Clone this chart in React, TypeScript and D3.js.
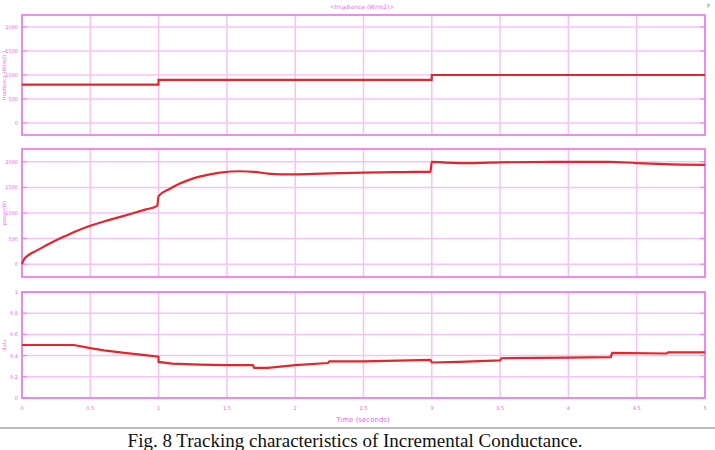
import React from "react";
import * as d3 from "d3";

// irradiance input (W/m2)
const irrTime = [0, 0.999, 1.0, 2.999, 3.0, 5];
const irrValue = [800, 800, 900, 900, 1000, 1000];

// PV power (W)
const powTime = [0, 0.01, 0.03, 0.06, 0.1, 0.2, 0.3, 0.4, 0.5, 0.6, 0.7, 0.8, 0.9, 0.99, 1.0, 1.08, 1.16, 1.3, 1.45, 1.6, 1.7, 1.8, 1.9, 2.0, 2.2, 2.5, 2.8, 2.99, 3.0, 3.1, 3.3, 3.5, 4.0, 4.3, 4.5, 4.7, 5];
const powValue = [0, 70, 140, 200, 255, 400, 530, 650, 750, 835, 910, 985, 1065, 1140, 1330, 1470, 1580, 1710, 1790, 1815, 1805, 1770, 1755, 1755, 1770, 1790, 1800, 1805, 2000, 1985, 1975, 1990, 2000, 2000, 1975, 1955, 1940];

// duty cycle
const dutyTime = [0, 0.38, 0.5, 0.6, 0.75, 0.9, 0.999, 1.0, 1.1, 1.3, 1.5, 1.69, 1.7, 1.8, 2.0, 2.24, 2.25, 2.5, 2.99, 3.0, 3.2, 3.5, 3.51, 4.0, 4.31, 4.32, 4.72, 4.73, 5];
const dutyValue = [0.5, 0.5, 0.47, 0.45, 0.425, 0.405, 0.39, 0.34, 0.325, 0.315, 0.31, 0.31, 0.285, 0.285, 0.31, 0.33, 0.345, 0.345, 0.36, 0.335, 0.34, 0.355, 0.375, 0.38, 0.385, 0.425, 0.42, 0.43, 0.43];

const xTicks = [0, 0.5, 1, 1.5, 2, 2.5, 3, 3.5, 4, 4.5, 5];
const powerTicks = [0, 500, 1000, 1500, 2000];
const dutyTicks = [0, 0.2, 0.4, 0.6, 0.8, 1];

const W = 715;
const H = 450;
const left = 22;
const right = 705;
const frame = "#f07ef0";
const grid = "#f7c2f7";
const label = "#ee66ee";
const red = "#e3262b";

const x = d3.scaleLinear().domain([0, 5]).range([left, right]);

function Panel({ top, bottom, domain, ticks, times, values, ylabel, curve }) {
  const y = d3.scaleLinear().domain(domain).range([bottom, top]);
  const line = d3
    .line<number>()
    .x((_, i) => x(times[i]))
    .y((v) => y(v))
    .curve(curve);
  return (
    <g>
      {xTicks.map((t) => (
        <line key={"vx" + t} x1={x(t)} x2={x(t)} y1={top} y2={bottom} stroke={grid} strokeWidth={1.5} />
      ))}
      {ticks.map((t) => (
        <g key={"hy" + t}>
          <line x1={left} x2={right} y1={y(t)} y2={y(t)} stroke={grid} strokeWidth={1.5} />
          <line x1={left} x2={left + 5} y1={y(t)} y2={y(t)} stroke={frame} strokeWidth={1} />
          <line x1={right - 5} x2={right} y1={y(t)} y2={y(t)} stroke={frame} strokeWidth={1} />
          <text x={left - 4} y={y(t) + 2} textAnchor="end" fontSize={5} fill={label} fontFamily="DejaVu Sans">
            {String(t)}
          </text>
        </g>
      ))}
      <rect x={left} y={top} width={right - left} height={bottom - top} fill="none" stroke={frame} strokeWidth={1.8} />
      <path d={line(values) || ""} fill="none" stroke={red} strokeWidth={2.2} />
      <text
        transform={`translate(5.5, ${(top + bottom) / 2}) rotate(-90)`}
        textAnchor="middle"
        fontSize={5}
        fill={label}
        fontFamily="DejaVu Sans"
      >
        {ylabel}
      </text>
    </g>
  );
}

export default function App() {
  return (
    <svg width={W} height={H} style={{ position: "absolute", left: 0, top: 0, background: "#fff" }}>
      <rect width={W} height={H} fill="#fff" />
      <text x={362} y={9} textAnchor="middle" fontSize={6} fill={label} fontFamily="DejaVu Sans">
        {"<Irradiance (W/m2)>"}
      </text>
      <text x={707} y={8} fontSize={6} fill="#888" fontFamily="DejaVu Sans">F</text>
      <Panel
        top={15}
        bottom={135}
        domain={[-250, 2250]}
        ticks={powerTicks}
        times={irrTime}
        values={irrValue}
        ylabel="Irradiance (W/m2) 1"
        curve={d3.curveLinear}
      />
      <Panel
        top={149}
        bottom={277}
        domain={[-250, 2250]}
        ticks={powerTicks}
        times={powTime}
        values={powValue}
        ylabel="power(W)"
        curve={d3.curveMonotoneX}
      />
      <Panel
        top={292}
        bottom={398}
        domain={[0, 1]}
        ticks={dutyTicks}
        times={dutyTime}
        values={dutyValue}
        ylabel="duty"
        curve={d3.curveLinear}
      />
      {xTicks.map((t) => (
        <text key={"xl" + t} x={x(t)} y={410} textAnchor="middle" fontSize={5} fill={label} fontFamily="DejaVu Sans">
          {String(t)}
        </text>
      ))}
      <text x={363} y={422} textAnchor="middle" fontSize={7} fill={label} fontFamily="DejaVu Sans">
        Time (seconds)
      </text>
      <line x1={0} x2={W} y1={428} y2={428} stroke="#bdbdbd" strokeWidth={2} />
      <text x={355} y={447} textAnchor="middle" fontSize={19} fill="#111" fontFamily="Liberation Serif">
        Fig. 8 Tracking characteristics of Incremental Conductance.
      </text>
    </svg>
  );
}
